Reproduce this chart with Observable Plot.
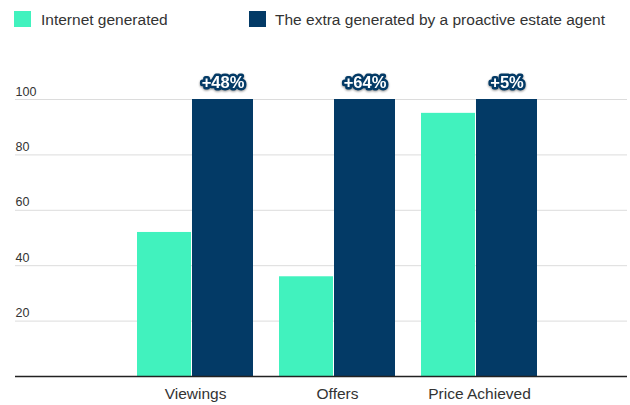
<!DOCTYPE html>
<html>
<head>
<meta charset="utf-8">
<script src="https://cdn.jsdelivr.net/npm/d3@7"></script>
<script src="https://cdn.jsdelivr.net/npm/@observablehq/plot@0.6"></script>
<style>
  html, body { margin: 0; padding: 0; background: #fff; }
  body { font-family: "Liberation Sans", Arial, Helvetica, sans-serif; width: 630px; height: 405px; overflow: hidden; }
  #legend { position: relative; height: 45px; }
  .sw { position: absolute; top: 11px; width: 17px; height: 16px; }
  .lt { position: absolute; top: 11px; font-size: 15.5px; line-height: 18px; color: #333; white-space: nowrap; }
  #chart svg { display: block; }
  .uplift text { filter: drop-shadow(0px 1px 1px rgba(0,0,0,0.45)); }
</style>
</head>
<body>
<div id="legend"></div>
<div id="chart"></div>
<script>
const categories = ["Viewings", "Offers", "Price Achieved"];
const internetGenerated = [52, 36, 95];
const withProactiveAgent = [100, 100, 100];
const upliftLabels = ["+48%", "+64%", "+5%"];
const yTicks = [20, 40, 60, 80, 100];
const seriesNames = ["Internet generated", "The extra generated by a proactive estate agent"];
const green = "#41f2be";
const navy = "#033a66";

const data = categories.map((c, i) => ({
  cat: c, internet: internetGenerated[i], total: withProactiveAgent[i], uplift: upliftLabels[i]
}));

// legend
const legend = document.getElementById("legend");
[[green, 14, 41], [navy, 249, 275]].forEach(([col, sx, tx], i) => {
  const s = document.createElement("div");
  s.className = "sw"; s.style.left = sx + "px"; s.style.background = col;
  legend.appendChild(s);
  const t = document.createElement("div");
  t.className = "lt"; t.style.left = tx + "px"; t.textContent = seriesNames[i];
  legend.appendChild(t);
});

const chart = Plot.plot({
  width: 630,
  height: 360,
  marginLeft: 15,
  marginRight: 3,
  marginTop: 54,
  marginBottom: 29,
  style: { fontFamily: "Liberation Sans, Arial, Helvetica, sans-serif", background: "#fff" },
  x: { domain: categories, range: [123, 551], paddingInner: 0.18, paddingOuter: 0.09, axis: null },
  y: { domain: [0, 100], axis: null },
  marks: [
    Plot.ruleY(yTicks, { stroke: "#dcdcdc", strokeWidth: 1 }),
    Plot.text(yTicks, { y: d => d, text: d => String(d), frameAnchor: "left", textAnchor: "start", dy: -8, fontSize: 12.5, fill: "#333" }),
    Plot.barY(data, { x: "cat", y: "internet", fill: green, insetRight: 62 }),
    Plot.barY(data, { x: "cat", y: "total", fill: navy, insetLeft: 55 }),
    Plot.ruleY([0], { stroke: "#222", strokeWidth: 1.5 }),
    Plot.text(data, { x: "cat", y: "total", text: "uplift", dx: 27.5, dy: -17, fontSize: 16.5, fontWeight: "bold", fill: "#fff", stroke: navy, strokeWidth: 5, strokeLinejoin: "round", className: "uplift" }),
    Plot.text(data, { x: "cat", text: "cat", frameAnchor: "bottom", dy: 22, fontSize: 15.5, fill: "#333" })
  ]
});
document.getElementById("chart").appendChild(chart);
</script>
</body>
</html>
